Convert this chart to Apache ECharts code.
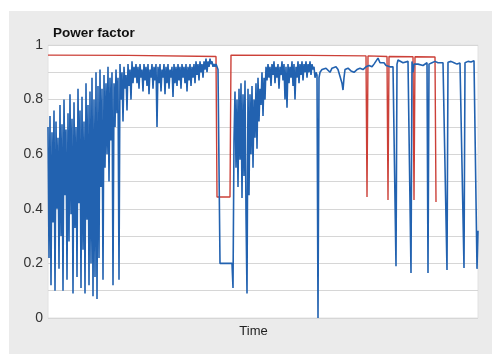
<!DOCTYPE html>
<html>
<head>
<meta charset="utf-8">
<script src="https://cdn.jsdelivr.net/npm/echarts@6/dist/echarts.min.js"></script>
<style>
  html, body { margin: 0; padding: 0; background: #fff; }
  #panel { position: absolute; left: 9px; top: 11px; width: 483px; height: 343px; background: #ebebeb; }
  #chart { position: absolute; left: 0; top: 0; width: 492px; height: 354px; }
</style>
</head>
<body>
<div id="panel"></div>
<div id="chart"></div>
<script>
// time index (sample number) and power factor
const redPf = [
  [0, 0.963], [80, 0.962], [168, 0.958], [169, 0.443], [182, 0.443], [183, 0.963],
  [260, 0.962], [318, 0.96], [319, 0.443], [320, 0.96], [339, 0.958], [340, 0.432],
  [341, 0.958], [365, 0.957], [366, 0.432], [367, 0.957], [387, 0.956], [388, 0.425]
];

const bluePf = [
  // first noisy stretch
  [0, 0.70], [1, 0.22], [2, 0.74], [3, 0.12], [4, 0.68], [5, 0.35], [6, 0.76], [7, 0.10],
  [8, 0.72], [9, 0.40], [10, 0.66], [11, 0.18], [12, 0.78], [13, 0.30], [14, 0.71], [15, 0.10],
  [16, 0.80], [17, 0.45], [18, 0.69], [19, 0.14], [20, 0.75], [21, 0.28], [22, 0.82], [23, 0.38],
  [24, 0.73], [25, 0.09], [26, 0.79], [27, 0.33], [28, 0.70], [29, 0.15], [30, 0.84], [31, 0.42],
  [32, 0.76], [33, 0.11], [34, 0.81], [35, 0.25], [36, 0.72], [37, 0.09], [38, 0.86], [39, 0.36],
  [40, 0.78], [41, 0.12], [42, 0.83], [43, 0.20], [44, 0.88], [45, 0.08], [46, 0.80], [47, 0.15],
  [48, 0.90], [49, 0.07], [50, 0.85], [51, 0.22], [52, 0.91], [53, 0.48], [54, 0.84], [55, 0.14],
  [56, 0.89], [57, 0.55], [58, 0.86], [59, 0.60], [60, 0.92], [61, 0.50], [62, 0.88],
  [63, 0.65], [64, 0.90], [65, 0.12], [66, 0.86], [67, 0.70], [68, 0.91], [69, 0.75], [70, 0.88],
  [71, 0.14], [72, 0.93], [73, 0.80], [74, 0.90], [75, 0.72], [76, 0.92], [77, 0.84], [78, 0.89],
  [79, 0.76], [80, 0.93], [81, 0.85], [82, 0.91], [83, 0.80], [84, 0.94], [85, 0.86], [86, 0.92],
  [87, 0.88],
  // high band before the first stop
  [88, 0.93], [89, 0.86], [90, 0.92], [91, 0.84], [92, 0.93], [93, 0.88], [94, 0.91], [95, 0.83],
  [96, 0.93], [97, 0.87], [98, 0.92], [99, 0.85], [100, 0.93], [101, 0.82], [102, 0.91], [103, 0.88],
  [104, 0.93], [105, 0.84], [106, 0.92], [107, 0.87], [108, 0.93], [109, 0.70], [110, 0.92], [111, 0.86],
  [112, 0.93], [113, 0.83], [114, 0.91], [115, 0.88], [116, 0.93], [117, 0.82], [118, 0.92], [119, 0.86],
  [120, 0.93], [121, 0.84], [122, 0.91], [123, 0.88], [124, 0.92], [125, 0.81], [126, 0.93], [127, 0.86],
  [128, 0.92], [129, 0.85], [130, 0.93], [131, 0.87], [132, 0.92], [133, 0.84], [134, 0.93], [135, 0.88],
  [136, 0.92], [137, 0.86], [138, 0.93], [139, 0.83], [140, 0.92], [141, 0.87], [142, 0.93], [143, 0.85],
  [144, 0.92], [145, 0.88], [146, 0.93], [147, 0.86], [148, 0.94], [149, 0.89], [150, 0.93], [151, 0.87],
  [152, 0.94], [153, 0.90], [154, 0.93], [155, 0.88], [156, 0.94], [157, 0.91], [158, 0.95], [159, 0.90],
  [160, 0.94], [161, 0.92], [162, 0.95], [163, 0.93], [164, 0.94], [165, 0.92], [166, 0.93], [167, 0.92],
  [168, 0.93], [169, 0.92], [170, 0.91], [171, 0.91],
  // stop
  [172, 0.20], [184, 0.20], [185, 0.11], [186, 0.65],
  // restart
  [187, 0.83], [188, 0.55], [189, 0.80], [190, 0.48], [191, 0.84], [192, 0.58], [193, 0.86], [194, 0.44],
  [195, 0.82], [196, 0.52], [197, 0.87], [198, 0.38], [199, 0.09], [200, 0.84], [201, 0.45], [202, 0.82],
  [203, 0.60], [204, 0.85], [205, 0.55], [206, 0.80], [207, 0.66], [208, 0.86], [209, 0.62], [210, 0.88],
  [211, 0.72], [212, 0.84], [213, 0.78], [214, 0.90], [215, 0.74], [216, 0.88], [217, 0.80], [218, 0.92],
  [219, 0.87], [220, 0.93], [221, 0.88], [222, 0.92], [223, 0.85], [224, 0.93], [225, 0.89], [226, 0.94],
  [227, 0.86], [228, 0.92], [229, 0.88], [230, 0.93], [231, 0.84], [232, 0.92], [233, 0.89], [234, 0.94],
  [235, 0.87], [236, 0.93], [237, 0.80], [238, 0.92], [239, 0.77], [240, 0.93], [241, 0.86], [242, 0.92],
  [243, 0.88], [244, 0.94], [245, 0.85], [246, 0.93], [247, 0.80], [248, 0.92], [249, 0.88], [250, 0.94],
  [251, 0.86], [252, 0.93], [253, 0.89], [254, 0.94], [255, 0.87], [256, 0.93], [257, 0.90], [258, 0.94],
  [259, 0.88], [260, 0.93], [261, 0.90], [262, 0.94], [263, 0.89], [264, 0.93], [265, 0.91], [266, 0.92],
  [267, 0.88], [268, 0.90], [269, 0.89], [270, 0.00], [271, 0.88], [272, 0.90],
  // steady tail with short drops
  [274, 0.91], [276, 0.905], [278, 0.915], [280, 0.91], [282, 0.90], [284, 0.915], [286, 0.91], [288, 0.92],
  [290, 0.91], [292, 0.905], [294, 0.86], [295, 0.835], [296, 0.88], [297, 0.91], [300, 0.915], [303, 0.905],
  [306, 0.90], [309, 0.91], [312, 0.915], [315, 0.91], [318, 0.92], [321, 0.925], [324, 0.92], [326, 0.93],
  [328, 0.935], [330, 0.952], [332, 0.935], [334, 0.93], [336, 0.935], [338, 0.925], [340, 0.927], [342, 0.92],
  [345, 0.92], [347, 0.925], [348, 0.19], [349, 0.93], [350, 0.945], [352, 0.94], [355, 0.935], [357, 0.935],
  [360, 0.94], [362, 0.945], [363, 0.165], [364, 0.94], [365, 0.90], [366, 0.93], [368, 0.935], [370, 0.93],
  [372, 0.93], [375, 0.925], [377, 0.93], [379, 0.935], [380, 0.165], [381, 0.93], [384, 0.935], [387, 0.94],
  [390, 0.935], [392, 0.94], [395, 0.935], [397, 0.94], [399, 0.176], [400, 0.937], [403, 0.94], [406, 0.935],
  [409, 0.93], [412, 0.934], [414, 0.935], [416, 0.183], [417, 0.935], [420, 0.94], [423, 0.938], [426, 0.942],
  [428, 0.945], [429, 0.18], [430, 0.32]
];

const yTicks = [0, 0.2, 0.4, 0.6, 0.8, 1];

const chart = echarts.init(document.getElementById('chart'), null, { renderer: 'canvas' });

chart.setOption({
  backgroundColor: 'transparent',
  animation: false,
  title: {
    text: 'Power factor',
    left: 53,
    top: 26,
    padding: 0,
    textStyle: { fontFamily: 'Liberation Sans', fontSize: 13.5, fontWeight: 'bold', color: '#111' }
  },
  grid: {
    left: 48, right: 14, top: 45, bottom: 36,
    show: true, backgroundColor: '#fff', borderColor: '#e2e2e2', borderWidth: 1
  },
  xAxis: {
    type: 'value',
    min: 0,
    max: 430,
    name: 'Time',
    nameLocation: 'middle',
    nameGap: 7,
    nameTextStyle: { fontFamily: 'Liberation Sans', fontSize: 13, color: '#222', padding: [0, 19, 0, 0] },
    axisLine: { show: false },
    axisTick: { show: false },
    axisLabel: { show: false },
    splitLine: { show: false }
  },
  yAxis: {
    type: 'value',
    min: 0,
    max: 1,
    interval: 0.1,
    axisLine: { show: false },
    axisTick: { show: false },
    axisLabel: {
      margin: 5,
      fontFamily: 'Liberation Sans',
      fontSize: 14,
      color: '#333',
      formatter: function (v) {
        const r = Math.round(v * 10) / 10;
        return yTicks.indexOf(r) >= 0 ? String(r) : '';
      }
    },
    splitLine: { lineStyle: { color: '#d6d6d6', width: 1 } }
  },
  series: [
    {
      name: 'red',
      type: 'line',
      data: redPf,
      symbol: 'none',
      lineStyle: { color: '#cc4038', width: 1.4 },
      z: 2
    },
    {
      name: 'blue',
      type: 'line',
      data: bluePf,
      symbol: 'none',
      lineStyle: { color: '#2262b0', width: 1.6 },
      z: 3
    }
  ]
});
</script>
</body>
</html>
